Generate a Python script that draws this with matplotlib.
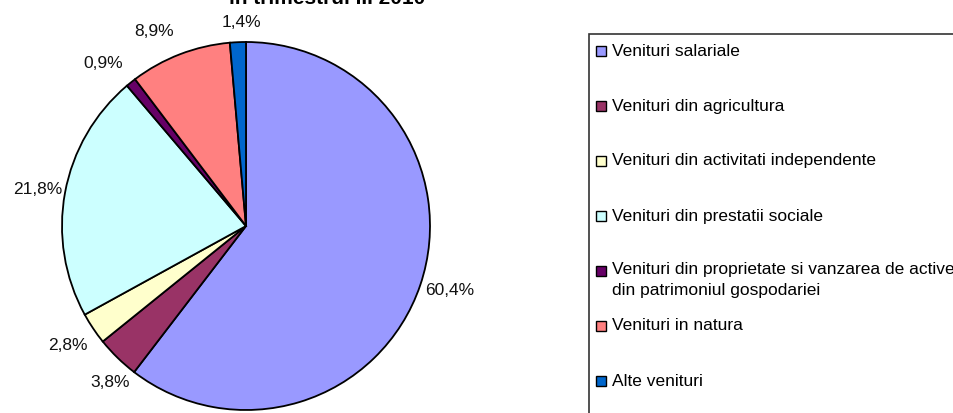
import numpy as np
import matplotlib
matplotlib.use("Agg")
import matplotlib.pyplot as plt
from matplotlib.patches import Rectangle

plt.rcParams['font.family'] = ['Liberation Sans', 'DejaVu Sans']

categories = [
    "Venituri salariale",
    "Venituri din agricultura",
    "Venituri din activitati independente",
    "Venituri din prestatii sociale",
    "Venituri din proprietate si vanzarea de active\ndin patrimoniul gospodariei",
    "Venituri in natura",
    "Alte venituri",
]
values = [60.4, 3.8, 2.8, 21.8, 0.9, 8.9, 1.4]
colors = ["#9999FF", "#993366", "#FFFFCC", "#CCFFFF", "#660066", "#FF8080", "#0066CC"]
title = "in trimestrul III 2010"

# label placement (layout only): radial distance and angular nudge (deg)
label_dist = [1.162, 1.125, 1.163, 1.147, 1.175, 1.17, 1.109]
label_nudge = [1.3, 3.2, 0.0, 0.6, 2.7, 4.1, -1.1]

W, H = 954, 413
fig = plt.figure(figsize=(W / 100, H / 100), dpi=100)

cx, cy, r = 246, 226, 184
ax = fig.add_axes([(cx - r) / W, (H - cy - r) / H, 2 * r / W, 2 * r / H])
wedges, _ = ax.pie(values, colors=colors, startangle=90, counterclock=False,
                   wedgeprops=dict(edgecolor='black', linewidth=1.3))
for w, v, d, n in zip(wedges, values, label_dist, label_nudge):
    ang = np.deg2rad((w.theta1 + w.theta2) / 2 + n)
    ax.text(d * np.cos(ang), d * np.sin(ang), f"{v:.1f}%".replace('.', ','),
            ha='center', va='center', fontsize=12.5, color='#111111')
ax.set_xlim(-1, 1)
ax.set_ylim(-1, 1)
ax.set_aspect('equal')
ax.axis('off')

fig.text(327 / W, (H - 4) / H, title, ha='center', va='baseline',
         fontsize=15, fontweight='bold')

# legend box
lx, ly = 589, 34
fig.patches.append(Rectangle((lx / W, -0.1), (W - lx + 20) / W, (H - ly) / H + 0.1,
                             transform=fig.transFigure, facecolor='white',
                             edgecolor='#333333', linewidth=1.2, zorder=1))
row_y = [51, 106, 161, 216, 271, 326, 381]
for lab, col, yy in zip(categories, colors, row_y):
    fig.patches.append(Rectangle((596 / W, (H - yy - 5) / H), 10 / W, 10 / H,
                                 transform=fig.transFigure, facecolor=col,
                                 edgecolor='black', linewidth=1.0, zorder=3))
    if '\n' in lab:
        fig.text(612 / W, (H - yy + 9) / H, lab, ha='left', va='top',
                 fontsize=12.5, zorder=4, linespacing=1.5)
    else:
        fig.text(612 / W, (H - yy) / H, lab, ha='left', va='center',
                 fontsize=12.5, zorder=4)

fig.savefig("out.png", dpi=100)
